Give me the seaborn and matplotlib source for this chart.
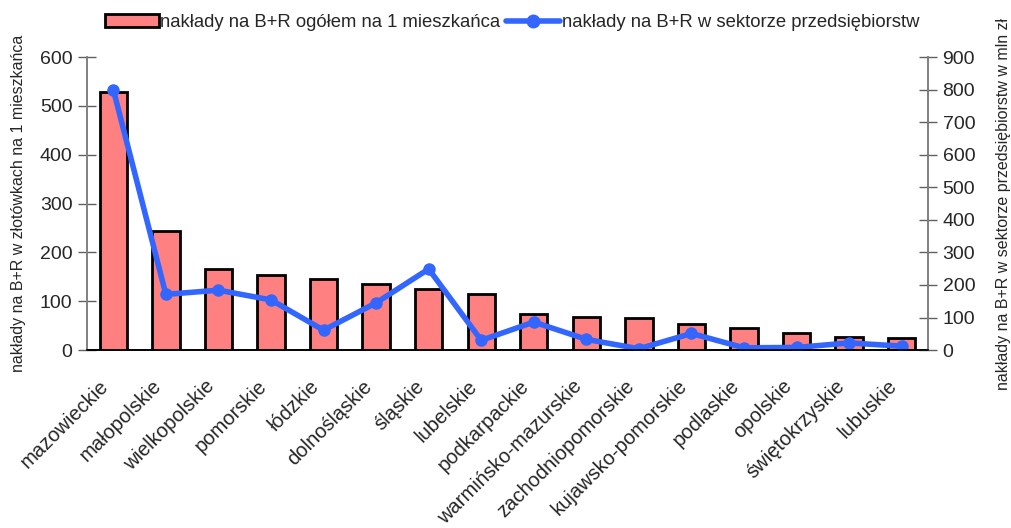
import numpy as np
import matplotlib
matplotlib.use('Agg')
import matplotlib.pyplot as plt
import matplotlib.transforms as mtransforms
import seaborn as sns
from matplotlib.patches import Patch
from matplotlib.lines import Line2D

# data
regions = ['mazowieckie', 'małopolskie', 'wielkopolskie', 'pomorskie', 'łódzkie',
           'dolnośląskie', 'śląskie', 'lubelskie', 'podkarpackie', 'warmińsko-mazurskie',
           'zachodniopomorskie', 'kujawsko-pomorskie', 'podlaskie', 'opolskie',
           'świętokrzyskie', 'lubuskie']
per_capita = [528, 244, 166, 154, 145, 136, 126, 114, 74, 68, 66, 53, 46, 35, 27, 25]
enterprise = [800, 171, 184, 154, 61, 145, 249, 30, 86, 33, 4, 51, 7, 8, 22, 12]

bar_label = 'nakłady na B+R ogółem na 1 mieszkańca'
line_label = 'nakłady na B+R w sektorze przedsiębiorstw'

sns.set_style('white')
plt.rcParams['font.family'] = ['Liberation Sans', 'DejaVu Sans']

bar_color = '#FF8080'
line_color = '#3366FF'

fig = plt.figure(figsize=(10.12, 5.28), dpi=100)
ax = fig.add_axes([0.086, 0.337, 0.831, 0.555])

sns.barplot(x=regions, y=per_capita, color=bar_color, edgecolor='black',
            linewidth=2, width=0.52, saturation=1, ax=ax)
ax.set_xlim(-0.5, len(regions) - 0.5)
ax.set_ylim(0, 600)
ax.set_yticks(range(0, 601, 100))

ax2 = ax.twinx()
sns.lineplot(x=np.arange(len(regions)), y=enterprise, color=line_color, linewidth=4,
             marker='o', markersize=9, markeredgewidth=0, ax=ax2)
ax2.set_ylim(0, 900)
ax2.set_yticks(range(0, 901, 100))

# category ticks: labels at centres, tick marks between categories
ax.set_xticks(range(len(regions)))
ax.set_xticklabels(regions, rotation=45, ha='right', rotation_mode='anchor', fontsize=14.5)
ax.set_xticks(np.arange(-0.5, len(regions), 1), minor=True)
ax.tick_params(axis='x', which='major', length=0, pad=14)
ax.tick_params(axis='x', which='minor', direction='inout', length=12, width=1, color='#606060')
ax.tick_params(axis='y', direction='inout', length=13, width=1, color='#606060', labelsize=14, pad=4)
ax2.tick_params(axis='y', direction='inout', length=13, width=1, color='#606060', labelsize=14, pad=4)

# nudge the rotated labels a bit left/down like the original
shift = mtransforms.ScaledTranslation(-0.14, -0.07, fig.dpi_scale_trans)
for lbl in ax.get_xticklabels():
    lbl.set_transform(lbl.get_transform() + shift)

for a in (ax, ax2):
    a.spines['top'].set_visible(False)
    a.spines['left'].set_color('#808080')
    a.spines['right'].set_color('#808080')
    a.spines['bottom'].set_color('black')
    a.spines['left'].set_linewidth(1.2)
    a.spines['right'].set_linewidth(1.2)
    a.spines['bottom'].set_linewidth(1.2)
    a.set_xlabel('')

ax.set_ylabel('nakłady na B+R w złotówkach na 1 mieszkańca', fontsize=11.5)
ax.yaxis.set_label_coords(-0.073, 0.5)
ax2.set_ylabel('nakłady na B+R w sektorze przedsiębiorstw w mln zł', fontsize=11.5)
ax2.yaxis.set_label_coords(1.081, 0.5)

handles = [Patch(facecolor=bar_color, edgecolor='black', linewidth=2),
           Line2D([0], [0], color=line_color, linewidth=4, marker='o', markersize=9)]
fig.legend(handles, [bar_label, line_label], loc='center', ncol=2,
           bbox_to_anchor=(0.506, 0.957), frameon=False, fontsize=13.3,
           handlelength=2.9, handletextpad=0.1, columnspacing=0.3)

fig.savefig('out.png', dpi=100)
